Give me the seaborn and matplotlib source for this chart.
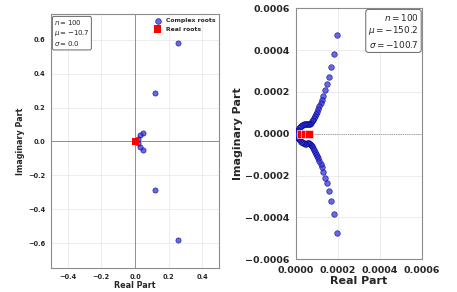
import matplotlib
matplotlib.use("Agg")
import matplotlib.pyplot as plt
import seaborn as sns
import numpy as np

# left panel: n=100, mu=-10.7, sigma=0.0 (upper half-plane, conjugates mirrored)
left_cplx_re = [0.253, 0.121, 0.047, 0.032, 0.015]
left_cplx_im = [0.583, 0.284, 0.050, 0.035, 0.012]
left_real = [0.004]

# right panel: n=100, mu=-150.2, sigma=-100.7, values in units of 1e-4
right_cplx_re = [1.97, 1.81, 1.65, 1.57, 1.48, 1.38, 1.29, 1.22, 1.17, 1.12,
                 1.07, 1.02, 0.97, 0.92, 0.87, 0.82, 0.77, 0.72, 0.67, 0.62,
                 0.57, 0.52, 0.47, 0.42, 0.37, 0.32, 0.27, 0.22, 0.17, 0.13,
                 0.10, 0.08, 0.07, 0.06]
right_cplx_im = [4.74, 3.82, 3.19, 2.73, 2.36, 2.09, 1.81, 1.60, 1.45, 1.31,
                 1.18, 1.06, 0.96, 0.86, 0.77, 0.68, 0.60, 0.53, 0.47, 0.45,
                 0.45, 0.46, 0.47, 0.47, 0.46, 0.44, 0.41, 0.37, 0.32, 0.26,
                 0.20, 0.14, 0.08, 0.03]
right_real = [0.25, 0.45, 0.64]

left_info = "$n = 100$\n$\\mu = -10.7$\n$\\sigma = 0.0$"
right_info = "$n = 100$\n$\\mu = -150.2$\n$\\sigma = -100.7$"


def both_halves(re, im, scale=1.0):
    re = np.asarray(re) * scale
    im = np.asarray(im) * scale
    return np.concatenate([re, re]), np.concatenate([im, -im])


sns.set_theme(style="whitegrid")
plt.rcParams["font.family"] = ["DejaVu Sans"]

fig = plt.figure(figsize=(4.57, 2.92), dpi=100)
ax1 = fig.add_axes([0.111, 0.0805, 0.369, 0.8705])
ax2 = fig.add_axes([0.6477, 0.112, 0.275, 0.8596])

blue_kw = dict(color="#3535e0", alpha=0.75, edgecolor="navy", linewidth=0.5)

# left panel
x, y = both_halves(left_cplx_re, left_cplx_im)
ax1.axhline(0, color="0.5", lw=0.6, zorder=1)
ax1.axvline(0, color="0.5", lw=0.6, zorder=1)
sns.scatterplot(x=x, y=y, ax=ax1, s=14, label="Complex roots", zorder=3, **blue_kw)
sns.scatterplot(x=left_real, y=[0] * len(left_real), ax=ax1, marker="s", s=26,
                color="red", edgecolor="none", label="Real roots", zorder=4)
ax1.set_xlim(-0.5, 0.5)
ax1.set_ylim(-0.75, 0.75)
ax1.set_xticks([-0.4, -0.2, 0.0, 0.2, 0.4])
ax1.set_yticks([-0.6, -0.4, -0.2, 0.0, 0.2, 0.4, 0.6])
ax1.set_xlabel("Real Part", fontsize=5.8, fontweight="bold", labelpad=1)
ax1.set_ylabel("Imaginary Part", fontsize=5.8, fontweight="bold", labelpad=2)
ax1.tick_params(labelsize=4.8, length=2, width=0.5, color="0.5", pad=2)
for t in ax1.get_xticklabels() + ax1.get_yticklabels():
    t.set_fontweight("bold")
ax1.legend(loc="upper right", frameon=False, prop={"weight": "bold", "size": 4.4},
           markerscale=1.1, handletextpad=0.6, handlelength=1.6, borderaxespad=0.2)
ax1.text(0.02, 0.985, left_info, transform=ax1.transAxes, ha="left", va="top",
         fontsize=5, linespacing=1.15,
         bbox=dict(boxstyle="round,pad=0.25", fc="white", ec="0.4", lw=0.7))

# right panel
x, y = both_halves(right_cplx_re, right_cplx_im, 1e-4)
ax2.axhline(0, color="0.3", lw=0.5, ls=":", zorder=1)
sns.scatterplot(x=x, y=y, ax=ax2, s=16, zorder=3, **blue_kw)
sns.scatterplot(x=np.asarray(right_real) * 1e-4, y=[0] * len(right_real), ax=ax2,
                marker="s", s=36, color="red", edgecolor="white", linewidth=0.4, zorder=4)
ax2.set_xlim(0, 0.0006)
ax2.set_ylim(-0.0006, 0.0006)
ax2.set_xticks([0, 0.0002, 0.0004, 0.0006])
ax2.set_yticks([-0.0006, -0.0004, -0.0002, 0, 0.0002, 0.0004, 0.0006])
ax2.set_xticklabels(["0.0000", "0.0002", "0.0004", "0.0006"])
ax2.set_yticklabels(["\u22120.0006", "\u22120.0004", "\u22120.0002", "0.0000",
                     "0.0002", "0.0004", "0.0006"])
ax2.set_xlabel("Real Part", fontsize=8, fontweight="bold", labelpad=1)
ax2.set_ylabel("Imaginary Part", fontsize=8, fontweight="bold", labelpad=2)
ax2.tick_params(labelsize=6.8, length=3, width=0.6, color="0.5", pad=1.5)
for t in ax2.get_xticklabels() + ax2.get_yticklabels():
    t.set_fontweight("bold")
ax2.text(0.975, 0.985, right_info, transform=ax2.transAxes, ha="right", va="top",
         fontsize=6.4, linespacing=1.15,
         bbox=dict(boxstyle="round,pad=0.3", fc="white", ec="0.4", lw=0.7))

for ax in (ax1, ax2):
    ax.grid(True, color="0.9", lw=0.5)
    for sp in ax.spines.values():
        sp.set_edgecolor("0.55")
        sp.set_linewidth(0.8)

fig.savefig("out.png", dpi=100)
plt.close(fig)
